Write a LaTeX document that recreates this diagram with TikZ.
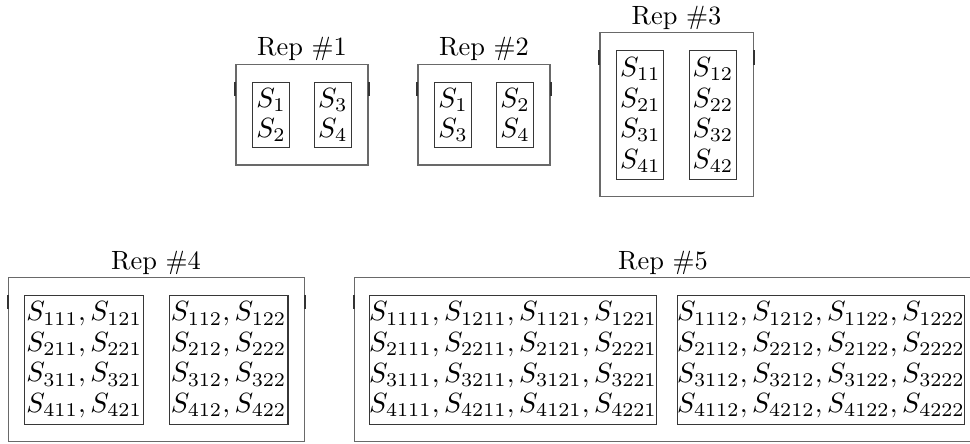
\documentclass[tikz,border=0pt]{standalone}
\usepackage{amsmath}
\definecolor{outergray}{RGB}{105,105,105}
\definecolor{innergray}{RGB}{55,55,55}
\begin{document}
\begin{tikzpicture}[x=0.36pt,y=-0.36pt,
  outerbox/.style={draw=outergray,line width=0.45pt,inner sep=0pt,rectangle},
  innerbox/.style={draw=innergray,line width=0.4pt,inner sep=0pt,rectangle,align=left,
    font=\fontsize{10}{11}\selectfont},
  replabel/.style={anchor=base,font=\fontsize{9.5}{11}\selectfont},
  tickmark/.style={line width=0.7pt,draw=black!80}]
\clip (0,0) rectangle (970,444);
% Rep 1
\node[outerbox,minimum width=47.52pt,minimum height=36.18pt] (r1) at (302,114.75) {};
\node[replabel] (l1) at (302,56) {Rep \#1};
\node[innerbox,minimum width=13.25pt,minimum height=23.5pt] (r1a) at (271,115) {$S_1$\\$S_2$};
\node[innerbox,minimum width=13.25pt,minimum height=23.5pt] (r1b) at (332.8,115) {$S_3$\\$S_4$};
% Rep 2
\node[outerbox,minimum width=47.52pt,minimum height=36.18pt] (r2) at (484,114.75) {};
\node[replabel] (l2) at (484,56) {Rep \#2};
\node[innerbox,minimum width=13.25pt,minimum height=23.5pt] (r2a) at (453,115) {$S_1$\\$S_3$};
\node[innerbox,minimum width=13.25pt,minimum height=23.5pt] (r2b) at (515,115) {$S_2$\\$S_4$};
% Rep 3
\node[outerbox,minimum width=55.2pt,minimum height=59.2pt] (r3) at (676.7,114.5) {};
\node[replabel] (l3) at (676.5,25) {Rep \#3};
\node[innerbox,minimum width=17pt,minimum height=46.3pt] (r3a) at (640.3,115) {$S_{11}$\\$S_{21}$\\$S_{31}$\\$S_{41}$};
\node[innerbox,minimum width=17pt,minimum height=46.3pt] (r3b) at (713,115) {$S_{12}$\\$S_{22}$\\$S_{32}$\\$S_{42}$};
% Rep 4
\node[outerbox,minimum width=106.56pt,minimum height=59.04pt] (r4) at (156.3,359.7) {};
\node[replabel] (l4) at (156,270) {Rep \#4};
\node[innerbox,minimum width=42.8pt,minimum height=46.4pt] (r4a) at (84.2,359.9)
  {$S_{111},S_{121}$\\$S_{211},S_{221}$\\$S_{311},S_{321}$\\$S_{411},S_{421}$};
\node[innerbox,minimum width=42.8pt,minimum height=46.4pt] (r4b) at (228.6,359.9)
  {$S_{112},S_{122}$\\$S_{212},S_{222}$\\$S_{312},S_{322}$\\$S_{412},S_{422}$};
% Rep 5
\node[outerbox,minimum width=223.4pt,minimum height=59.04pt] (r5) at (664.75,359.85) {};
\node[replabel] (l5) at (663,270) {Rep \#5};
\node[innerbox,minimum width=101.9pt,minimum height=46.4pt] (r5a) at (513,360)
  {$S_{1111},S_{1211},S_{1121},S_{1221}$\\$S_{2111},S_{2211},S_{2121},S_{2221}$\\$S_{3111},S_{3211},S_{3121},S_{3221}$\\$S_{4111},S_{4211},S_{4121},S_{4221}$};
\node[innerbox,minimum width=101.9pt,minimum height=46.4pt] (r5b) at (821,360)
  {$S_{1112},S_{1212},S_{1122},S_{1222}$\\$S_{2112},S_{2212},S_{2122},S_{2222}$\\$S_{3112},S_{3212},S_{3122},S_{3222}$\\$S_{4112},S_{4212},S_{4122},S_{4222}$};
% tick marks on outer edges
\foreach \o/\i in {r1/r1a,r2/r2a,r3/r3a,r4/r4a,r5/r5a}{
  \coordinate (tl\o) at (\o.west |- \i.north);
  \coordinate (tr\o) at (\o.east |- \i.north);
  \draw[tickmark] (tl\o) -- ++(0,14.5);
  \draw[tickmark] (tr\o) -- ++(0,14.5);
}
\end{tikzpicture}
\end{document}
